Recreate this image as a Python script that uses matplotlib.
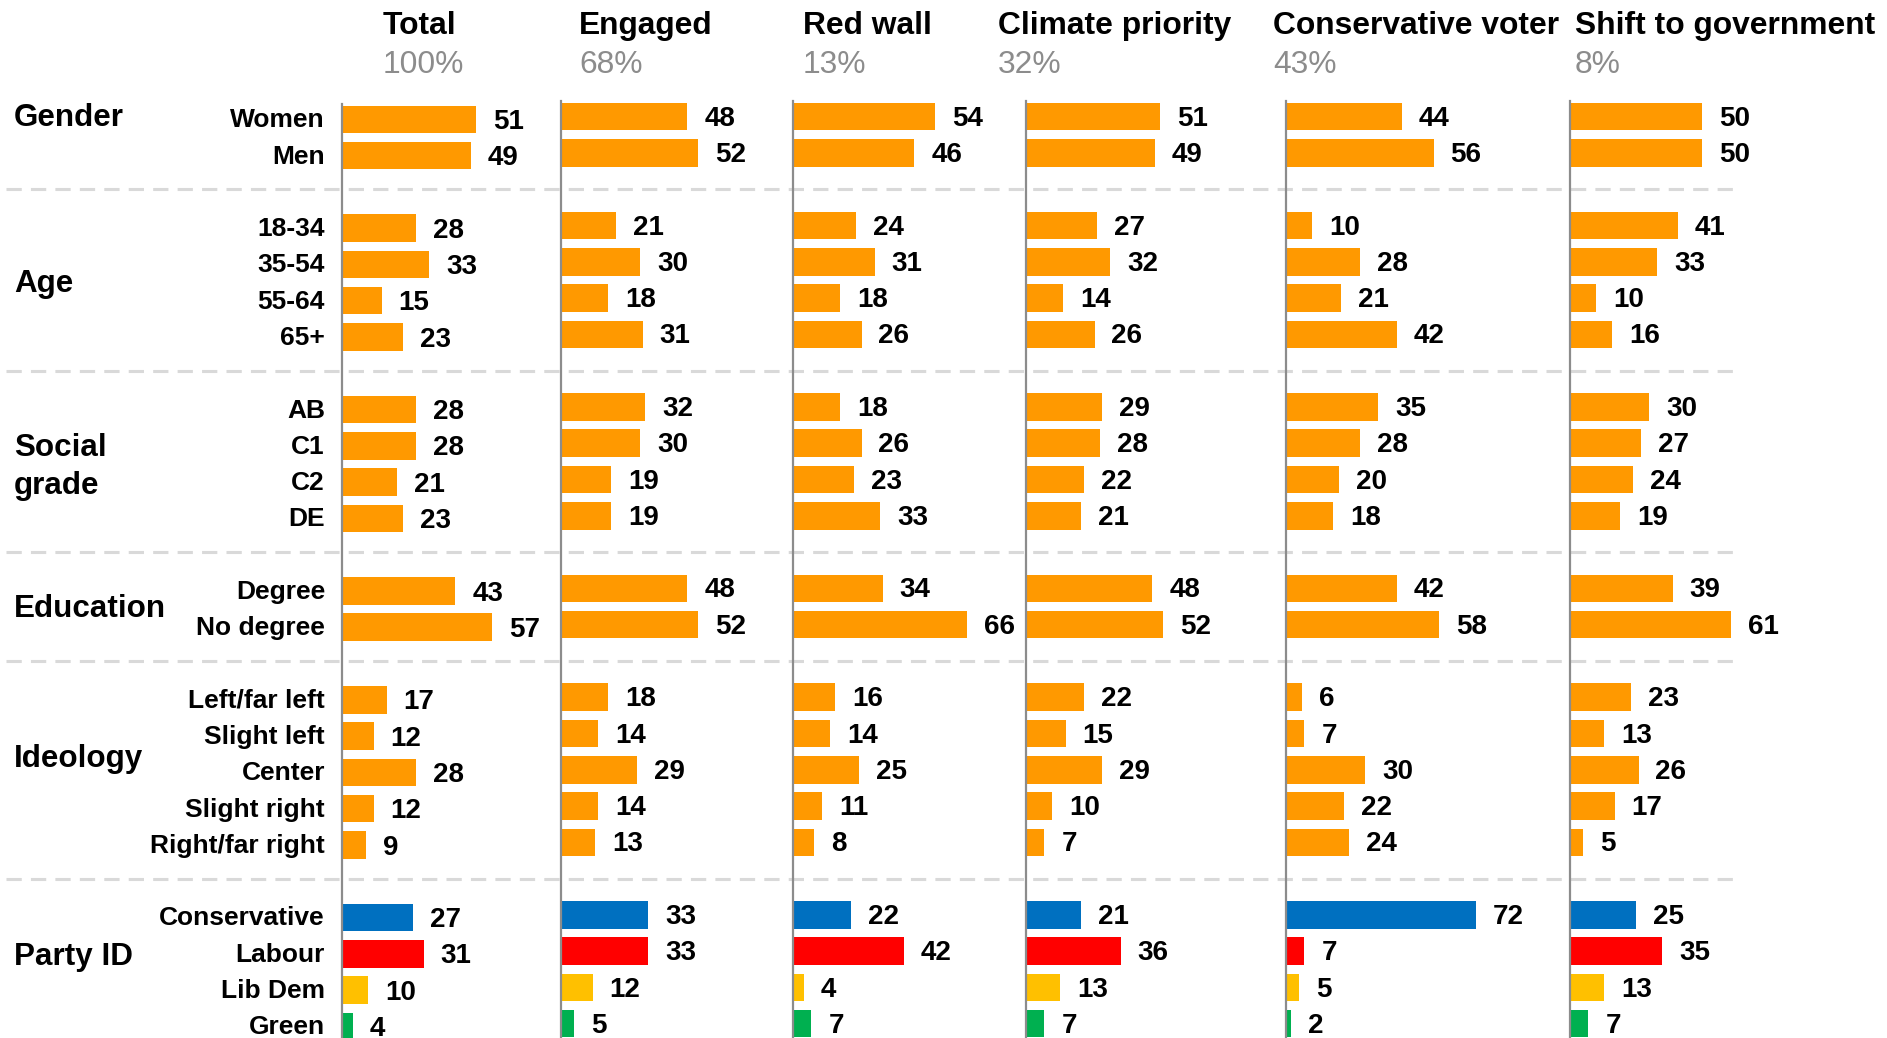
import matplotlib
matplotlib.use("Agg")
import matplotlib.pyplot as plt
from matplotlib.lines import Line2D

plt.rcParams['font.family'] = ['Liberation Sans', 'DejaVu Sans']

# ---- data -------------------------------------------------------------
groups = ["Gender", "Age", "Social", "grade", "Education", "Ideology", "Party ID"]
group_items = [
    ["Women", "Men"],
    ["18-34", "35-54", "55-64", "65+"],
    ["AB", "C1", "C2", "DE"],
    ["Degree", "No degree"],
    ["Left/far left", "Slight left", "Center", "Slight right", "Right/far right"],
    ["Conservative", "Labour", "Lib Dem", "Green"],
]
segments = ["Total", "Engaged", "Red wall", "Climate priority",
            "Conservative voter", "Shift to government"]
segment_share = ["100%", "68%", "13%", "32%", "43%", "8%"]

total = [51, 49, 28, 33, 15, 23, 28, 28, 21, 23, 43, 57, 17, 12, 28, 12, 9, 27, 31, 10, 4]
engaged = [48, 52, 21, 30, 18, 31, 32, 30, 19, 19, 48, 52, 18, 14, 29, 14, 13, 33, 33, 12, 5]
red_wall = [54, 46, 24, 31, 18, 26, 18, 26, 23, 33, 34, 66, 16, 14, 25, 11, 8, 22, 42, 4, 7]
climate = [51, 49, 27, 32, 14, 26, 29, 28, 22, 21, 48, 52, 22, 15, 29, 10, 7, 21, 36, 13, 7]
con_voter = [44, 56, 10, 28, 21, 42, 35, 28, 20, 18, 42, 58, 6, 7, 30, 22, 24, 72, 7, 5, 2]
shift_gov = [50, 50, 41, 33, 10, 16, 30, 27, 24, 19, 39, 61, 23, 13, 26, 17, 5, 25, 35, 13, 7]
series = [total, engaged, red_wall, climate, con_voter, shift_gov]

ORANGE = "#FF9900"
party_colors = ["#0070C0", "#FF0000", "#FFC000", "#00B050"]

# ---- layout (pixel units) ---------------------------------------------
W, H = 1887, 1038
fig = plt.figure(figsize=(W / 100, H / 100), dpi=100)

ROW0 = 116.7      # centre of first row
ROW = 36.28       # row pitch
PX_PER_UNIT = 2.635
panel_x = [342, 561, 793, 1026, 1286, 1570]
panel_dy = [2.6, 0, 0, 0, 0, 0]
label_dy = [-1.9, -1.5, -1.5, -1.5, -1.5, -1.5]   # value-label nudge (points)
head_x = [383, 579, 803, 998, 1273, 1575]

# row index of every category (one blank row between groups)
rows, bar_colors, labels, sep_rows = [], [], [], []
r = 0
for gi, items in enumerate(group_items):
    for k, it in enumerate(items):
        rows.append(r)
        labels.append(it)
        bar_colors.append(party_colors[k] if gi == len(group_items) - 1 else ORANGE)
        r += 1
    if gi < len(group_items) - 1:
        sep_rows.append(r)
        r += 1

def py(row, dy=0.0):
    return ROW0 + dy + row * ROW

def fx(x):
    return x / W

def fy(y):
    return 1 - y / H

# separators
for sr in sep_rows:
    y = fy(py(sr))
    fig.add_artist(Line2D([fx(6), fx(1733)], [y, y], color="#D9D9D9", lw=2.2,
                          ls=(0, (5, 3)), transform=fig.transFigure, zorder=0))

val_font = dict(fontsize=20, fontweight="bold", color="black")
for si, (vals, x0, dy) in enumerate(zip(series, panel_x, panel_dy)):
    width_px = 260
    ax = fig.add_axes([fx(x0), 0, width_px / W, 1])
    top_row = (0 - ROW0 - dy) / ROW
    bot_row = (H - ROW0 - dy) / ROW
    ax.set_ylim(bot_row, top_row)
    ax.set_xlim(0, width_px / PX_PER_UNIT)
    ax.axis("off")
    ax.barh(rows, vals, height=0.76, color=bar_colors, zorder=2)
    ax.plot([0, 0], [-0.42, bot_row], color="#8C8C8C", lw=1.6, zorder=3,
            clip_on=False)
    for rr, v in zip(rows, vals):
        ax.annotate(str(v), xy=(v, rr), xytext=(12.2, label_dy[si]),
                    textcoords="offset points", va="center", ha="left",
                    **val_font)
    # header
    fig.text(fx(head_x[si]), fy(34.3), segments[si], fontsize=22.9,
             fontweight="bold", ha="left", va="baseline")
    fig.text(fx(head_x[si]), fy(73.3), segment_share[si], fontsize=22.9,
             color="#8C8C8C", ha="left", va="baseline")

# category labels
for rr, lab in zip(rows, labels):
    fig.text(fx(325), fy(py(rr, 3.6)), lab, fontsize=19, fontweight="bold",
             ha="right", va="center")

# group labels
group_y = [117.6, 284, 447.6, 486, 609, 759.5, 956.6]
for g, y in zip(groups, group_y):
    fig.text(fx(14), fy(y), g, fontsize=22.6, fontweight="bold", ha="left",
             va="center")

fig.savefig("out.png", dpi=100)
